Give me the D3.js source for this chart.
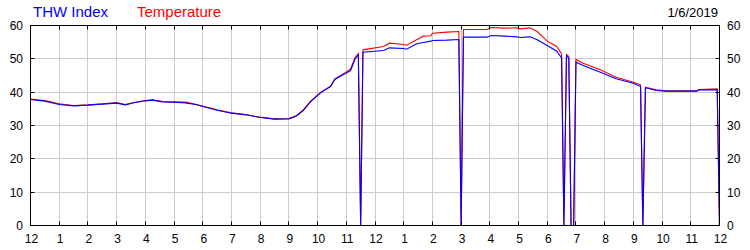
<!DOCTYPE html>
<html>
<head>
<meta charset="utf-8">
<script src="https://cdn.jsdelivr.net/npm/d3@7"></script>
<style>
  html, body { margin: 0; padding: 0; background: #fff; }
  svg { display: block; }
  text { font-family: Arial, "Liberation Sans", sans-serif; }
</style>
</head>
<body>
<svg id="chart" width="750" height="250"></svg>
<script>
// ---- Data (time in decimal hours from midnight) ----
const times = [0.0, 0.5, 1.0, 1.5, 2.0, 2.5, 3.0, 3.3, 3.6, 4.0, 4.25, 4.6, 5.0, 5.4, 5.75,
  6.1, 6.5, 7.0, 7.5, 8.0, 8.5, 9.0, 9.25, 9.5, 9.75, 10.1, 10.45, 10.6, 10.9, 11.15, 11.3,
  11.42, 11.5, 11.58, 12.3, 12.5, 13.0, 13.1, 13.45, 13.68, 13.95, 14.0, 14.5, 14.92, 15.0,
  15.08, 15.9, 16.05, 16.5, 16.95, 17.05, 17.4, 17.65, 18.0, 18.33, 18.5, 18.58, 18.67, 18.75,
  18.83, 18.92, 19.0, 19.25, 19.85, 20.4, 21.0, 21.25, 21.33, 21.42, 21.8, 22.15, 23.2, 23.3,
  23.92, 24.0];
const thwIndex = [37.8, 37.3, 36.3, 35.9, 36.1, 36.4, 36.7, 36.2, 36.8, 37.4, 37.6, 37.1, 37.0, 36.8, 36.3,
  35.5, 34.6, 33.7, 33.2, 32.4, 31.9, 32.0, 32.8, 34.5, 37.1, 39.8, 41.7, 43.8, 45.3, 46.5, 49.8,
  51.3, 0, 52.0, 52.5, 53.3, 53.1, 52.9, 54.5, 54.9, 55.3, 55.5, 55.6, 55.8, 0,
  56.5, 56.5, 57.0, 56.8, 56.6, 56.4, 56.6, 55.7, 54.0, 52.3, 50.3, 0, 50.9, 50.2,
  0, 0, 49.0, 48.0, 46.0, 44.0, 42.7, 41.7, 0, 41.3, 40.5, 40.3, 40.3, 40.7,
  40.7, 0];
const temperature = [37.9, 37.5, 36.5, 36.0, 36.2, 36.5, 36.9, 36.3, 36.9, 37.5, 37.7, 37.2, 37.0, 37.0, 36.4,
  35.6, 34.7, 33.8, 33.3, 32.5, 32.0, 32.1, 32.9, 34.7, 37.2, 39.9, 41.8, 44.0, 45.5, 47.0, 50.3,
  51.5, 0, 52.7, 53.7, 54.7, 54.3, 54.1, 55.7, 56.8, 56.9, 57.7, 58.0, 58.2, 0,
  58.8, 58.8, 59.4, 59.2, 59.3, 59.0, 59.3, 58.2, 55.3, 53.7, 51.5, 0, 51.3, 50.7,
  0, 0, 49.8, 48.7, 46.7, 44.5, 43.0, 42.2, 0, 41.5, 40.7, 40.4, 40.4, 40.8,
  41.0, 0];
const hourLabels = ["12","1","2","3","4","5","6","7","8","9","10","11",
  "12","1","2","3","4","5","6","7","8","9","10","11","12"];
const yTicks = [0, 10, 20, 30, 40, 50, 60];
const seriesNames = ["THW Index", "Temperature"];
const dateLabel = "1/6/2019";

// ---- Layout ----
const svg = d3.select("#chart");
const pL = 30.5, pR = 719.5, pT = 25.5, pB = 225.5;
const x = d3.scaleLinear().domain([0, 24]).range([pL, pR]);
const y = d3.scaleLinear().domain([0, 60]).range([pB, pT]);
const hours = d3.range(0, 25);
const snap = v => Math.round(v - 0.5) + 0.5;

// grid
const grid = svg.append("g").attr("stroke", "#cccccc").attr("stroke-width", 1);
grid.selectAll("line.v").data(hours.slice(1, -1)).join("line")
  .attr("x1", d => snap(x(d))).attr("x2", d => snap(x(d)))
  .attr("y1", pT).attr("y2", pB);
grid.selectAll("line.h").data(yTicks.slice(1, -1)).join("line")
  .attr("x1", pL).attr("x2", pR)
  .attr("y1", d => snap(y(d))).attr("y2", d => snap(y(d)));

// lines
const pts = (vals) => times.map((t, i) => [t, vals[i]]);
const line = d3.line().x(d => x(d[0])).y(d => y(d[1]));
svg.append("path").datum(pts(temperature)).attr("d", line)
  .attr("fill", "none").attr("stroke", "#ff0000").attr("stroke-width", 1.1);
svg.append("path").datum(pts(thwIndex)).attr("d", line)
  .attr("fill", "none").attr("stroke", "#0000ff").attr("stroke-width", 1.1);

// frame
svg.append("rect").attr("x", pL).attr("y", pT)
  .attr("width", pR - pL).attr("height", pB - pT)
  .attr("fill", "none").attr("stroke", "#000").attr("stroke-width", 1);

// tick marks (inward)
const ticks = svg.append("g").attr("stroke", "#000").attr("stroke-width", 1);
ticks.selectAll("line.tb").data(hours.slice(1, -1)).join("line")
  .attr("x1", d => snap(x(d))).attr("x2", d => snap(x(d)))
  .attr("y1", pB).attr("y2", pB - 4);
ticks.selectAll("line.tt").data(hours.slice(1, -1)).join("line")
  .attr("x1", d => snap(x(d))).attr("x2", d => snap(x(d)))
  .attr("y1", pT).attr("y2", pT + 4);
ticks.selectAll("line.tl").data(yTicks.slice(1, -1)).join("line")
  .attr("x1", pL).attr("x2", pL + 4)
  .attr("y1", d => snap(y(d))).attr("y2", d => snap(y(d)));
ticks.selectAll("line.tr").data(yTicks.slice(1, -1)).join("line")
  .attr("x1", pR).attr("x2", pR - 4)
  .attr("y1", d => snap(y(d))).attr("y2", d => snap(y(d)));

// axis labels
svg.append("g").selectAll("text").data(hours).join("text")
  .attr("x", d => x(d) + 1).attr("y", 243)
  .attr("text-anchor", "middle").attr("font-size", 12).attr("fill", "#000")
  .text(d => hourLabels[d]);
svg.append("g").selectAll("text").data(yTicks).join("text")
  .attr("x", 23).attr("y", d => y(d) + 4.5)
  .attr("text-anchor", "end").attr("font-size", 12).attr("fill", "#000")
  .text(d => d);
svg.append("g").selectAll("text").data(yTicks).join("text")
  .attr("x", 727).attr("y", d => y(d) + 4.5)
  .attr("text-anchor", "start").attr("font-size", 12).attr("fill", "#000")
  .text(d => d);

// legend and date
svg.append("text").attr("x", 33).attr("y", 17).attr("font-size", 15)
  .attr("fill", "#0000ff").text(seriesNames[0]);
svg.append("text").attr("x", 137).attr("y", 17).attr("font-size", 15)
  .attr("fill", "#ff0000").text(seriesNames[1]);
svg.append("text").attr("x", 718).attr("y", 17).attr("font-size", 13)
  .attr("text-anchor", "end").attr("fill", "#000").text(dateLabel);
</script>
</body>
</html>
